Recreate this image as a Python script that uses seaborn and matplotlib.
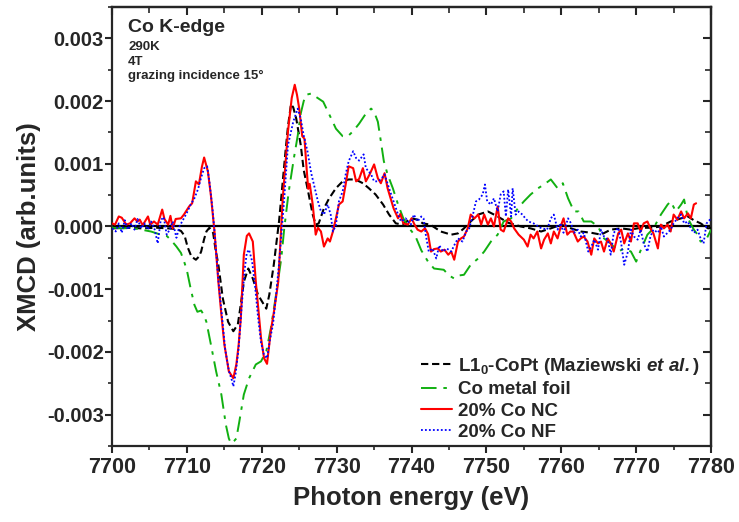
import numpy as np
import pandas as pd
import matplotlib
matplotlib.use("Agg")
import matplotlib.pyplot as plt
import seaborn as sns
from matplotlib.ticker import MultipleLocator

# XMCD spectra (values in units of 1e-3)
e_nc = [7700.0, 7700.4, 7700.9, 7701.3, 7701.9, 7702.4, 7703.0, 7703.4, 7703.7, 7704.1,
        7704.8, 7705.1, 7705.6, 7706.1, 7706.7, 7707.0, 7707.5, 7707.8, 7708.1, 7708.5,
        7709.2, 7709.6, 7710.3, 7710.7, 7711.2, 7711.6, 7712.0, 7712.3, 7712.8, 7713.2,
        7713.5, 7713.7, 7714.2, 7714.6, 7715.0, 7715.6, 7716.2, 7716.6, 7716.9, 7717.2,
        7717.6, 7718.0, 7718.3, 7718.8, 7719.2, 7719.6, 7719.9, 7720.3, 7720.7, 7721.2,
        7721.7, 7722.2, 7722.8, 7723.5, 7724.0, 7724.4, 7724.7, 7725.0, 7725.4, 7725.7,
        7726.0, 7726.2, 7726.4, 7726.8, 7727.2, 7727.5, 7727.9, 7728.3, 7728.8, 7729.1,
        7729.5, 7729.9, 7730.3, 7730.8, 7731.2, 7731.6, 7732.2, 7732.6, 7733.0, 7733.5,
        7733.9, 7734.4, 7735.0, 7735.5, 7735.9, 7736.4, 7736.8, 7737.2, 7737.6, 7738.2,
        7738.5, 7738.9, 7739.5, 7740.0, 7740.4, 7740.8, 7741.3, 7741.8, 7742.2, 7742.6,
        7743.0, 7743.5, 7743.9, 7744.4, 7744.9, 7745.3, 7745.7, 7746.2, 7746.6, 7747.0,
        7747.5, 7747.9, 7748.4, 7748.9, 7749.3, 7749.7, 7750.2, 7750.6, 7751.0, 7751.5,
        7751.9, 7752.3, 7752.9, 7753.3, 7753.7, 7754.3, 7755.0, 7755.5, 7755.9, 7756.3,
        7756.8, 7757.3, 7757.7, 7758.2, 7758.6, 7759.0, 7759.5, 7760.0, 7760.3, 7760.8,
        7761.2, 7761.6, 7762.2, 7762.6, 7763.0, 7763.5, 7764.0, 7764.4, 7764.9, 7765.3,
        7765.7, 7766.2, 7766.6, 7767.0, 7767.6, 7768.0, 7768.4, 7768.9, 7769.3, 7769.7,
        7770.2, 7770.6, 7771.0, 7771.5, 7771.9, 7772.3, 7772.9, 7773.3, 7773.7, 7774.2,
        7774.6, 7775.0, 7775.5, 7776.0, 7776.4, 7776.9, 7777.3, 7777.7, 7778.0]
v_nc = [0.05, 0.03, 0.16, 0.14, 0.03, 0.05, 0.13, 0.08, 0.11, 0.02,
        0.16, 0.03, 0.08, 0.03, 0.27, 0.12, 0.03, 0.17, -0.03, 0.12,
        0.13, 0.19, 0.32, 0.37, 0.72, 0.67, 0.95, 1.10, 0.88, 0.50,
        0.13, -0.10, -0.88, -1.40, -1.88, -2.31, -2.42, -2.20, -1.90, -1.46,
        -0.45, -0.15, -0.11, -0.24, -0.88, -1.40, -1.78, -2.10, -2.19, -1.67,
        -1.30, -0.88, 0.45, 1.52, 2.05, 2.26, 2.10, 1.88, 1.44, 1.40,
        0.90, 0.60, 0.68, 0.35, -0.13, -0.02, -0.08, -0.32, -0.19, -0.24,
        -0.08, 0.13, 0.35, 0.40, 0.67, 0.96, 0.93, 0.72, 0.76, 0.93,
        0.72, 0.83, 0.99, 0.77, 0.69, 0.85, 0.61, 0.45, 0.29, 0.13,
        0.20, 0.05, 0.03, 0.13, 0.03, -0.05, -0.08, -0.03, -0.12, -0.40,
        -0.36, -0.35, -0.40, -0.37, -0.45, -0.40, -0.53, -0.24, -0.19, -0.16,
        -0.03, 0.19, 0.13, 0.19, 0.03, 0.19, 0.03, 0.13, 0.00, 0.32,
        -0.05, -0.08, 0.13, 0.08, -0.03, -0.13, -0.21, -0.32, -0.13, -0.19,
        -0.08, -0.35, -0.21, -0.11, -0.27, -0.08, -0.19, 0.03, 0.13, -0.13,
        -0.08, -0.08, -0.24, -0.19, -0.16, -0.24, -0.45, -0.19, -0.27, -0.24,
        -0.40, -0.19, -0.27, -0.40, -0.11, -0.05, -0.27, -0.11, -0.24, 0.05,
        0.05, -0.08, 0.05, 0.08, -0.03, -0.11, -0.35, 0.03, -0.03, 0.03,
        -0.08, 0.19, 0.11, 0.24, 0.13, 0.21, 0.13, 0.35, 0.37]

e_nf = [7700.0, 7700.5, 7700.9, 7701.3, 7701.7, 7702.1, 7702.6, 7703.0, 7703.4, 7703.9,
        7704.3, 7704.8, 7705.2, 7705.7, 7706.1, 7706.5, 7706.9, 7707.3, 7707.7, 7708.1,
        7708.6, 7709.0, 7709.6, 7710.0, 7710.5, 7711.0, 7711.5, 7711.9, 7712.3, 7712.7,
        7713.0, 7713.4, 7713.7, 7714.2, 7714.7, 7715.1, 7715.6, 7716.0, 7716.2, 7716.5,
        7716.9, 7717.3, 7717.7, 7718.0, 7718.3, 7718.7, 7719.1, 7719.5, 7719.9, 7720.3,
        7720.7, 7721.1, 7721.5, 7721.9, 7722.3, 7722.7, 7723.0, 7723.5, 7724.2, 7724.8,
        7725.2, 7725.6, 7726.1, 7726.6, 7727.0, 7727.5, 7727.9, 7728.3, 7728.8, 7729.2,
        7729.5, 7729.9, 7730.3, 7730.8, 7731.2, 7731.6, 7732.2, 7732.6, 7733.0, 7733.6,
        7733.9, 7734.6, 7735.0, 7735.5, 7735.9, 7736.4, 7737.0, 7737.6, 7738.2, 7738.6,
        7739.2, 7739.9, 7740.3, 7740.8, 7741.3, 7741.6, 7741.9, 7742.3, 7742.8, 7743.3,
        7743.7, 7744.2, 7744.7, 7745.3, 7745.7, 7746.2, 7746.8, 7747.3, 7747.7, 7748.2,
        7748.6, 7749.0, 7749.5, 7749.8, 7750.1, 7750.6, 7751.0, 7751.5, 7751.9, 7752.3,
        7752.6, 7752.9, 7753.3, 7753.5, 7753.9, 7754.3, 7754.8, 7755.2, 7755.6, 7756.3,
        7757.2, 7758.1, 7758.6, 7759.0, 7759.5, 7759.9, 7760.3, 7760.9, 7761.3, 7761.7,
        7762.2, 7762.6, 7763.0, 7763.6, 7764.0, 7764.4, 7764.9, 7765.3, 7765.7, 7766.2,
        7766.6, 7767.0, 7767.6, 7768.0, 7768.4, 7768.9, 7769.3, 7769.7, 7770.2, 7770.6,
        7771.0, 7771.5, 7771.9, 7772.3, 7772.9, 7773.3, 7773.7, 7774.2, 7774.6, 7775.0,
        7775.5, 7776.0, 7776.4, 7776.9, 7777.3, 7777.7, 7778.2, 7778.6, 7779.0, 7779.4,
        7780.0]
v_nf = [-0.03, -0.08, 0.05, -0.10, 0.10, -0.05, 0.05, -0.05, 0.12, -0.03,
        0.05, -0.05, 0.08, -0.05, -0.27, 0.10, 0.15, -0.13, -0.05, 0.08,
        -0.18, 0.00, 0.13, 0.22, 0.35, 0.45, 0.60, 0.78, 0.93, 0.96,
        0.72, 0.30, -0.10, -0.85, -1.45, -1.95, -2.30, -2.45, -2.55, -2.35,
        -1.95, -1.30, -0.70, -0.42, -0.37, -0.55, -0.95, -1.45, -1.85, -2.05,
        -2.10, -1.80, -1.56, -1.10, -0.60, 0.00, 0.45, 1.30, 1.67, 1.88,
        1.72, 1.45, 1.20, 0.85, 0.65, 0.40, 0.24, 0.19, 0.35, 0.19,
        -0.08, 0.02, 0.40, 0.56, 0.83, 1.04, 1.20, 1.09, 1.05, 1.15,
        0.93, 0.83, 0.72, 0.72, 0.75, 0.83, 0.61, 0.40, 0.19, 0.08,
        0.13, 0.03, 0.19, 0.08, 0.16, 0.13, -0.13, -0.40, -0.35, -0.51,
        -0.30, -0.40, -0.35, -0.40, -0.30, -0.19, -0.24, -0.08, -0.03, 0.19,
        0.40, 0.43, 0.51, 0.67, 0.40, 0.35, 0.45, 0.24, 0.51, 0.56,
        0.16, 0.59, 0.16, 0.61, 0.19, 0.24, 0.19, 0.13, 0.08, 0.05,
        -0.02, -0.05, 0.13, 0.19, -0.05, 0.05, -0.10, 0.13, 0.05, -0.10,
        -0.05, -0.16, -0.10, -0.40, -0.32, -0.21, -0.37, -0.05, -0.16, -0.21,
        -0.45, -0.10, -0.02, -0.27, -0.61, -0.40, -0.05, -0.16, -0.21, -0.05,
        -0.27, -0.40, -0.16, -0.05, -0.10, 0.00, -0.16, -0.10, -0.05, 0.05,
        0.13, 0.19, 0.05, 0.08, -0.03, -0.10, -0.05, -0.19, -0.27, 0.05,
        0.13]

e_copt = [7700.0, 7702.0, 7704.0, 7706.0, 7707.5, 7708.5, 7709.2, 7709.7, 7710.1, 7710.6,
          7711.2, 7711.6, 7711.9, 7712.3, 7712.6, 7713.0, 7713.5, 7713.8, 7714.2, 7714.8,
          7715.5, 7716.2, 7716.8, 7717.2, 7717.6, 7718.2, 7718.8, 7719.5, 7720.2, 7720.6,
          7721.0, 7721.6, 7722.3, 7722.8, 7723.2, 7723.5, 7723.9, 7724.2, 7724.6, 7725.2,
          7725.6, 7726.2, 7726.8, 7727.2, 7727.6, 7728.3, 7729.0, 7729.9, 7730.8, 7731.6,
          7732.5, 7733.5, 7734.3, 7735.2, 7736.2, 7737.0, 7737.9, 7738.8, 7739.9, 7740.8,
          7741.5, 7742.5, 7743.9, 7745.3, 7746.2, 7747.0, 7747.9, 7748.9, 7750.2, 7751.5,
          7752.9, 7754.6, 7755.9, 7757.3, 7758.6, 7760.0, 7761.3, 7762.6, 7764.0, 7765.3,
          7766.6, 7768.0, 7769.3, 7770.6, 7772.0, 7773.3, 7774.6, 7776.0, 7776.9, 7777.7,
          7778.6, 7779.6, 7780.0]
v_copt = [-0.03, -0.02, -0.03, -0.02, -0.03, -0.04, -0.07, -0.15, -0.33, -0.48,
          -0.53, -0.48, -0.40, -0.20, -0.08, -0.02, -0.10, -0.35, -0.61, -1.15,
          -1.52, -1.67, -1.56, -1.24, -0.88, -0.67, -0.83, -1.09, -1.23, -1.31,
          -1.09, -0.61, 0.08, 0.72, 1.24, 1.60, 1.95, 1.90, 1.72, 1.30,
          0.90, 0.55, 0.19, 0.03, 0.05, 0.29, 0.45, 0.61, 0.72, 0.75,
          0.75, 0.69, 0.61, 0.51, 0.35, 0.19, 0.05, 0.03, 0.13, 0.11,
          0.05, 0.03, -0.08, -0.13, -0.11, -0.03, 0.08, 0.19, 0.24, 0.16,
          0.06, 0.00, -0.03, -0.08, -0.03, 0.03, -0.03, -0.08, -0.10, -0.13,
          -0.05, -0.03, -0.05, -0.02, -0.02, 0.00, 0.08, 0.13, 0.16, 0.10,
          0.05, -0.03, -0.02]

e_foil = [7700.0, 7701.5, 7702.5, 7703.9, 7705.2, 7706.5, 7707.3, 7707.9, 7708.6, 7709.2,
          7709.6, 7710.0, 7710.5, 7711.0, 7711.4, 7711.9, 7712.3, 7712.6, 7713.2, 7713.9,
          7714.6, 7715.2, 7715.6, 7715.9, 7716.3, 7716.6, 7717.0, 7717.6, 7718.3, 7719.2,
          7719.9, 7720.6, 7721.2, 7721.9, 7722.6, 7723.0, 7723.6, 7724.3, 7724.8, 7725.2,
          7725.6, 7725.9, 7726.6, 7727.2, 7728.2, 7729.0, 7729.9, 7730.8, 7731.5, 7732.2,
          7733.0, 7733.9, 7734.6, 7735.0, 7735.5, 7735.9, 7736.3, 7736.8, 7737.5, 7738.2,
          7738.9, 7739.7, 7740.5, 7741.3, 7742.2, 7743.0, 7744.3, 7745.0, 7745.7, 7746.4,
          7747.0, 7747.9, 7748.9, 7749.7, 7750.6, 7751.5, 7752.3, 7753.3, 7754.2, 7755.0,
          7755.9, 7756.9, 7757.7, 7758.6, 7759.5, 7760.2, 7760.9, 7761.7, 7762.3, 7763.0,
          7764.0, 7764.9, 7765.7, 7766.6, 7767.6, 7768.4, 7769.3, 7770.0, 7770.6, 7771.5,
          7772.3, 7773.3, 7774.2, 7774.6, 7775.3, 7776.0, 7776.4, 7776.9, 7777.7, 7778.2,
          7778.6, 7779.3, 7780.0]
v_foil = [-0.02, -0.03, -0.02, -0.05, -0.08, -0.13, -0.15, -0.22, -0.32, -0.42,
          -0.55, -0.70, -0.99, -1.25, -1.36, -1.34, -1.42, -1.52, -1.88, -2.31,
          -2.68, -3.16, -3.38, -3.46, -3.42, -3.38, -3.11, -2.68, -2.42, -2.20,
          -2.15, -1.99, -1.63, -1.09, -0.51, -0.03, 0.56, 1.10, 1.45, 1.80,
          2.00, 2.10, 2.12, 2.07, 1.99, 1.79, 1.56, 1.44, 1.44, 1.52,
          1.64, 1.80, 1.88, 1.83, 1.67, 1.36, 1.04, 0.83, 0.61, 0.35,
          0.13, -0.03, -0.15, -0.38, -0.56, -0.67, -0.69, -0.78, -0.83, -0.78,
          -0.77, -0.61, -0.51, -0.40, -0.24, -0.13, 0.08, 0.13, 0.29, 0.40,
          0.51, 0.61, 0.67, 0.75, 0.61, 0.69, 0.45, 0.24, 0.24, 0.08,
          0.08, 0.00, -0.19, -0.27, -0.40, -0.35, -0.40, -0.56, -0.38, -0.13,
          -0.03, 0.19, 0.35, 0.40, 0.24, 0.35, 0.43, 0.13, -0.05, -0.13,
          -0.24, -0.22, -0.05]

series = [
    ("L1$_\\mathbf{0}$-CoPt (Maziewski $\\mathbfit{et\\ al.}$)", e_copt, v_copt, "black", (0, (3.5, 1.8)), 1.5),
    ("Co metal foil", e_foil, v_foil, "#11b011", (0, (8, 3.5, 1.8, 3.5)), 1.4),
    ("20% Co NC", e_nc, v_nc, "#ff0000", "-", 1.5),
    ("20% Co NF", e_nf, v_nf, "#0000ff", (0, (1, 1.2)), 1.3),
]

sns.set_style("ticks")
plt.rcParams["font.family"] = ["Liberation Sans", "DejaVu Sans"]
plt.rcParams["font.weight"] = "bold"
plt.rcParams["mathtext.fontset"] = "custom"
plt.rcParams["mathtext.rm"] = "Liberation Sans:bold"
plt.rcParams["mathtext.bf"] = "Liberation Sans:bold"
plt.rcParams["mathtext.it"] = "Liberation Sans:italic:bold"
plt.rcParams["mathtext.bfit"] = "Liberation Sans:italic:bold"

fig = plt.figure(figsize=(7.39, 5.22), dpi=100)
ax = fig.add_axes([0.1516, 0.1456, 0.8106, 0.841])

ax.axhline(0, color="black", lw=1.6, zorder=1)
for label, e, v, color, ls, lw in series:
    df = pd.DataFrame({"energy": e, "xmcd": np.array(v) * 1e-3})
    sns.lineplot(data=df, x="energy", y="xmcd", ax=ax, color=color,
                 linestyle=ls, linewidth=lw, label=label, zorder=3)

ax.set_xlim(7700, 7780)
ax.set_ylim(-0.0035, 0.0035)
ax.xaxis.set_major_locator(MultipleLocator(10))
ax.xaxis.set_minor_locator(MultipleLocator(5))
ax.yaxis.set_major_locator(MultipleLocator(0.001))
ax.yaxis.set_minor_locator(MultipleLocator(0.0005))
ax.yaxis.set_major_formatter(plt.FuncFormatter(lambda y, p: f"{y:.3f}".replace("-0.000", "0.000")))

ax.tick_params(which="major", direction="out", length=5, width=1.5)
ax.tick_params(which="minor", direction="out", length=3, width=1.2)
ax.tick_params(axis="x", labelsize=15.5, pad=3)
ax.tick_params(axis="y", labelsize=14.5, pad=1)
for sp in ax.spines.values():
    sp.set_linewidth(1.6)

top = ax.secondary_xaxis("top")
top.set_xticks(np.arange(7700, 7781, 10))
top.xaxis.set_minor_locator(MultipleLocator(5))
top.tick_params(which="both", direction="in", labeltop=False)
top.tick_params(which="major", length=6, width=1.5)
top.tick_params(which="minor", length=4, width=1.2)
right = ax.secondary_yaxis("right")
right.set_yticks(np.arange(-0.003, 0.0031, 0.001))
right.yaxis.set_minor_locator(MultipleLocator(0.0005))
right.tick_params(which="both", direction="in", labelright=False)
right.tick_params(which="major", length=6, width=1.5)
right.tick_params(which="minor", length=4, width=1.2)
top.spines["top"].set_linewidth(1.6)
right.spines["right"].set_linewidth(1.6)

ax.set_xlabel("Photon energy (eV)", fontsize=18.5, fontweight="bold", labelpad=6)
ax.set_ylabel("XMCD (arb.units)", fontsize=18.5, fontweight="bold", labelpad=4)

ax.text(0.027, 0.943, "Co K-edge", transform=ax.transAxes, fontsize=14, fontweight="bold")
ax.text(0.027, 0.902, "290K", transform=ax.transAxes, fontsize=9.5, fontweight="bold")
ax.text(0.027, 0.868, "4T", transform=ax.transAxes, fontsize=9.5, fontweight="bold")
ax.text(0.027, 0.836, "grazing incidence 15\u00b0", transform=ax.transAxes, fontsize=9.5, fontweight="bold")

ax.legend(loc="upper left", bbox_to_anchor=(0.516, 0.205), frameon=False,
          fontsize=13.5, handlelength=1.65, handletextpad=0.3, labelspacing=0.22,
          borderpad=0, borderaxespad=0)

fig.savefig("out.png", dpi=100)
